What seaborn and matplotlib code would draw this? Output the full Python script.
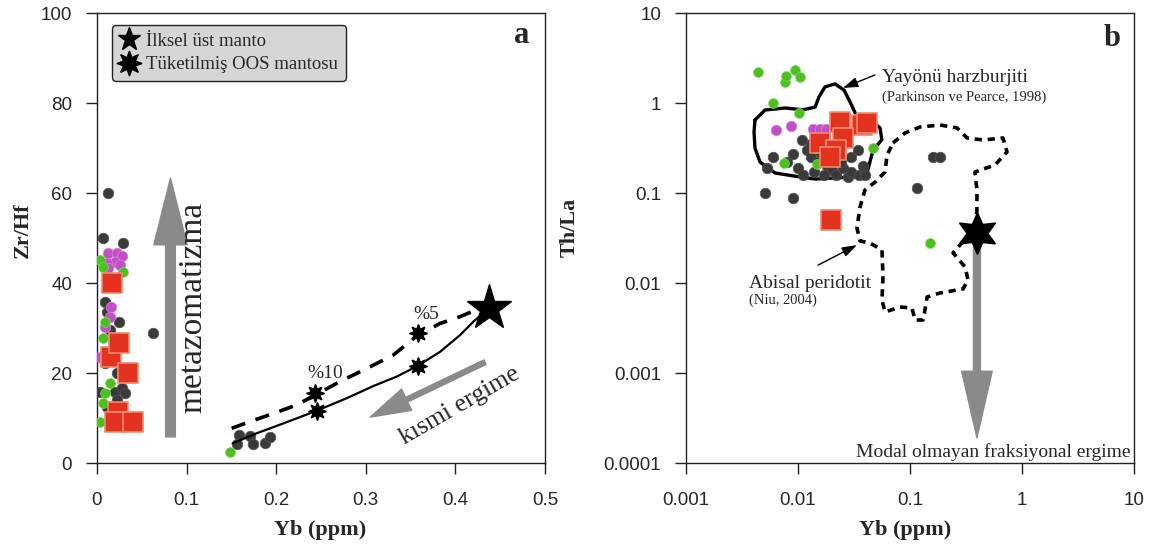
import matplotlib
matplotlib.use("Agg")
import matplotlib.pyplot as plt
import seaborn as sns
import pandas as pd
from matplotlib.lines import Line2D

# ---------------- data: panel a (Yb vs Zr/Hf) ----------------
a_gray_x = [0.012, 0.007, 0.029, 0.063, 0.009, 0.011, 0.024, 0.0145, 0.009, 0.022,
            0.0033, 0.020, 0.0275, 0.031, 0.022, 0.011, 0.0145,
            0.158, 0.171, 0.174, 0.1875, 0.193, 0.156]
a_gray_y = [60, 49.9, 48.8, 28.8, 35.8, 33.6, 31.4, 29.6, 22.2, 19.9,
            15.8, 15.8, 16.6, 15.5, 14.0, 12.5, 9.6,
            6.2, 5.9, 4.2, 4.5, 5.8, 4.2]
a_mag_x = [0.0127, 0.022, 0.0275, 0.020, 0.011, 0.0257, 0.0127, 0.016, 0.0145, 0.009, 0.0033, 0.009]
a_mag_y = [46.6, 46.6, 45.9, 44.7, 44.4, 44.0, 43.3, 34.7, 32.5, 30.3, 23.6, 23.6]
a_grn_x = [0.0033, 0.029, 0.007, 0.009, 0.007, 0.009, 0.0145, 0.009, 0.007, 0.0033, 0.148]
a_grn_y = [45.1, 42.5, 43.6, 31.4, 27.7, 22.9, 17.7, 15.5, 13.3, 9.2, 2.4]
a_red_x = [0.017, 0.016, 0.025, 0.035, 0.023, 0.020, 0.040]
a_red_y = [40.0, 23.5, 26.7, 20.0, 11.3, 9.1, 9.1]

# melting curves
solid_x = [0.1514, 0.1782, 0.208, 0.245, 0.2787, 0.3084, 0.3345, 0.358, 0.3828, 0.4051, 0.420, 0.435]
solid_y = [4.37, 6.6, 8.8, 11.6, 14.4, 17.1, 19.2, 21.6, 24.7, 28.4, 31.4, 34.0]
dash_x = [0.1503, 0.1708, 0.1968, 0.2229, 0.2433, 0.2712, 0.301, 0.3307, 0.358, 0.3828, 0.405, 0.418]
dash_y = [7.7, 9.2, 11.0, 12.9, 15.1, 18.1, 21.0, 24.0, 28.4, 31.0, 32.5, 33.6]
melt_pts_x = [0.245, 0.358, 0.243, 0.358]
melt_pts_y = [11.6, 21.6, 15.5, 28.9]
pum_a = (0.437, 34.5)

# ---------------- data: panel b (Yb vs Th/La) ----------------
b_gray_x = [0.0053, 0.0051, 0.0090, 0.0108, 0.160, 0.186, 0.115, 0.012, 0.013, 0.015,
            0.016, 0.018, 0.020, 0.022, 0.025, 0.028, 0.030, 0.035, 0.038, 0.030,
            0.034, 0.008, 0.010, 0.011, 0.014, 0.017, 0.009, 0.013, 0.024, 0.040, 0.006]
b_gray_y = [0.19, 0.10, 0.088, 0.39, 0.25, 0.25, 0.114, 0.30, 0.25, 0.22,
            0.28, 0.20, 0.18, 0.16, 0.19, 0.15, 0.17, 0.16, 0.20, 0.25,
            0.30, 0.22, 0.19, 0.16, 0.17, 0.16, 0.27, 0.35, 0.22, 0.16, 0.25]
b_mag_x = [0.0064, 0.0087, 0.0136, 0.0157, 0.0178]
b_mag_y = [0.50, 0.56, 0.51, 0.51, 0.51]
b_grn_x = [0.0044, 0.0077, 0.0078, 0.0094, 0.0104, 0.0060, 0.0102, 0.047, 0.0075, 0.0147, 0.150]
b_grn_y = [2.21, 1.71, 2.0, 2.3, 1.93, 1.0, 0.77, 0.32, 0.215, 0.21, 0.028]
b_red_x = [0.0237, 0.037, 0.041, 0.0157, 0.025, 0.022, 0.0193, 0.0197]
b_red_y = [0.61, 0.57, 0.60, 0.36, 0.41, 0.30, 0.25, 0.05]
pum_b = (0.396, 0.036)

arc_x = [0.00413, 0.00507, 0.00766, 0.0111, 0.0142, 0.0154, 0.0174, 0.0214, 0.0258, 0.0291,
         0.033, 0.044, 0.054, 0.056, 0.0468, 0.042, 0.0323, 0.0214, 0.0142, 0.00902,
         0.00623, 0.00458, 0.00413, 0.00405, 0.00413]
arc_y = [0.647, 0.836, 0.88, 0.84, 0.90, 1.17, 1.51, 1.63, 1.39, 1.03,
         0.74, 0.65, 0.53, 0.39, 0.30, 0.18, 0.151, 0.147, 0.143, 0.155,
         0.167, 0.221, 0.316, 0.477, 0.647]
aby_x = [0.0705, 0.0902, 0.123, 0.185, 0.263, 0.323, 0.449, 0.676, 0.735, 0.574,
         0.380, 0.396, 0.396, 0.380, 0.279, 0.242, 0.310, 0.330, 0.297, 0.185,
         0.142, 0.136, 0.131, 0.111, 0.104, 0.0815, 0.0598, 0.0562, 0.0574, 0.0562,
         0.044, 0.0358, 0.0336, 0.0358, 0.0396, 0.0487, 0.0598, 0.0624, 0.0705]
aby_y = [0.36, 0.464, 0.541, 0.57, 0.528, 0.409, 0.388, 0.409, 0.286, 0.205,
         0.171, 0.108, 0.0648, 0.0408, 0.0264, 0.0216, 0.0151, 0.0108, 0.00858, 0.00774,
         0.00699, 0.00501, 0.00388, 0.00388, 0.00528, 0.00541, 0.00476, 0.00647, 0.0117, 0.0233,
         0.0278, 0.0293, 0.0408, 0.0699, 0.108, 0.132, 0.171, 0.264, 0.36]

# ---------------- style ----------------
sns.set_style("ticks")
plt.rcParams["font.family"] = ["Liberation Sans", "DejaVu Sans"]
SERIF = ["Liberation Serif", "DejaVu Serif"]
GRAY_PT = "#3a3a3a"
MAG = "#c24fc6"
GRN = "#4cc021"
RED = "#e3321f"
ARROW = "#8a8a8a"

fig = plt.figure(figsize=(11.5, 5.45), dpi=100)
axa = fig.add_axes([97 / 1150, 82 / 545, 448 / 1150, 450 / 545])
axb = fig.add_axes([686 / 1150, 82 / 545, 448 / 1150, 450 / 545])

for ax in (axa, axb):
    for s in ax.spines.values():
        s.set_linewidth(1.0)
        s.set_color("#222222")
    ax.tick_params(direction="out", length=8, width=1.0, labelsize=13.5, color="#222222")
    ax.tick_params(axis="x", pad=13)
    ax.tick_params(axis="y", pad=10)


def scatter_groups(ax, gx, gy, mx, my, nx, ny, rx, ry):
    sns.scatterplot(x=gx, y=gy, ax=ax, color=GRAY_PT, s=58, edgecolor="#555555",
                    linewidth=0.5, zorder=3, legend=False)
    sns.scatterplot(x=mx, y=my, ax=ax, color=MAG, s=58, edgecolor="#d78ad9",
                    linewidth=0.5, zorder=4, legend=False)
    sns.scatterplot(x=nx, y=ny, ax=ax, color=GRN, s=50, edgecolor="#7dd65a",
                    linewidth=0.5, zorder=4, legend=False)
    sns.scatterplot(x=rx, y=ry, ax=ax, color=RED, marker="s", s=215, edgecolor="#f08a70",
                    linewidth=1.2, zorder=6, legend=False)


def arrow(ax, tail, tip, hl, hw, tw, z=2):
    ax.annotate("", xy=tip, xytext=tail,
                arrowprops=dict(arrowstyle=f"simple,head_length={hl},head_width={hw},tail_width={tw}",
                                color=ARROW, shrinkA=0, shrinkB=0, mutation_scale=1),
                zorder=z)


def curve(ax, x, y, lw, dashes=None, z=5):
    sns.lineplot(x=x, y=y, ax=ax, color="black", lw=lw, sort=False, estimator=None,
                 errorbar=None, zorder=z)
    line = ax.lines[-1]
    if dashes:
        line.set_dashes(dashes)
    return line

# ---------------- panel a ----------------
axa.set_xlim(0, 0.5)
axa.set_ylim(0, 100)
axa.set_xticks([0, 0.1, 0.2, 0.3, 0.4, 0.5])
axa.set_xticklabels(["0", "0.1", "0.2", "0.3", "0.4", "0.5"])
axa.set_yticks([0, 20, 40, 60, 80, 100])

arrow(axa, (0.082, 5.8), (0.082, 63.3), 48, 24, 7)
arrow(axa, (0.433, 22.4), (0.305, 10.2), 29, 17, 3.6)

curve(axa, solid_x, solid_y, 1.6)
curve(axa, dash_x, dash_y, 2.6, dashes=[4, 3])
axa.plot(melt_pts_x, melt_pts_y, ls="none", marker=(8, 1, 0), ms=13, color="black", zorder=6)
axa.plot([pum_a[0]], [pum_a[1]], ls="none", marker="*", ms=34, color="black", zorder=7)

scatter_groups(axa, a_gray_x, a_gray_y, a_mag_x, a_mag_y, a_grn_x, a_grn_y, a_red_x, a_red_y)

axa.text(0.368, 33.0, "%5", family=SERIF, fontsize=14, ha="center", va="center")
axa.text(0.255, 20.0, "%10", family=SERIF, fontsize=14, ha="center", va="center")
axa.text(0.405, 12.8, "kısmi ergime", family=SERIF, fontsize=18.5, ha="center", va="center",
         rotation=30)
axa.text(0.107, 34.5, "metazomatizma", family=SERIF, fontsize=24, ha="center", va="center",
         rotation=90)
axa.text(0.949, 0.951, "a", transform=axa.transAxes, family=SERIF, fontsize=22,
         fontweight="bold", ha="center", va="center")

handles = [Line2D([], [], ls="none", marker="*", ms=17, color="black"),
           Line2D([], [], ls="none", marker=(8, 1, 0), ms=18, color="black")]
leg = axa.legend(handles, ["İlksel üst manto", "Tüketilmiş OOS mantosu"],
                 loc="upper left", bbox_to_anchor=(0.033, 0.973), frameon=True, fancybox=True,
                 facecolor="#d6d6d6", edgecolor="#222222", framealpha=1,
                 prop={"family": SERIF, "size": 13.5}, handlelength=1.0, handletextpad=0.45,
                 borderpad=0.4, labelspacing=0.35, borderaxespad=0)
leg.get_frame().set_linewidth(1.0)

axa.set_xlabel("Yb (ppm)", family=SERIF, fontsize=16, fontweight="bold")
axa.set_ylabel("Zr/Hf", family=SERIF, fontsize=16, fontweight="bold")
axa.xaxis.set_label_coords(0.498, -0.127)
axa.yaxis.set_label_coords(-0.143, 0.518)

# ---------------- panel b ----------------
axb.set_xscale("log")
axb.set_yscale("log")
axb.set_xlim(0.001, 10)
axb.set_ylim(0.0001, 10)
axb.set_xticks([0.001, 0.01, 0.1, 1, 10])
axb.set_xticklabels(["0.001", "0.01", "0.1", "1", "10"])
axb.set_yticks([0.0001, 0.001, 0.01, 0.1, 1, 10])
axb.set_yticklabels(["0.0001", "0.001", "0.01", "0.1", "1", "10"])
axb.minorticks_off()

curve(axb, arc_x, arc_y, 2.4, z=2)
curve(axb, aby_x, aby_y, 2.6, dashes=[2.0, 1.6], z=2)

arrow(axb, pum_b, (0.396, 0.00019), 48, 22, 5, z=3)
axb.plot([pum_b[0]], [pum_b[1]], ls="none", marker=(6, 1, 0), ms=30, color="black", zorder=7)

scatter_groups(axb, b_gray_x, b_gray_y, b_mag_x, b_mag_y, b_grn_x, b_grn_y, b_red_x, b_red_y)

axb.annotate("", xy=(0.0252, 1.47), xytext=(0.0487, 2.05),
             arrowprops=dict(arrowstyle="-|>,head_length=0.9,head_width=0.3", color="black", lw=1.0,
                             shrinkA=0, shrinkB=0))
axb.annotate("", xy=(0.0336, 0.0264), xytext=(0.0151, 0.0158),
             arrowprops=dict(arrowstyle="-|>,head_length=0.9,head_width=0.3", color="black", lw=1.0,
                             shrinkA=0, shrinkB=0))
axb.text(0.0562, 1.9, "Yayönü harzburjiti", family=SERIF, fontsize=14, ha="left", va="center")
axb.text(0.0562, 1.17, "(Parkinson ve Pearce, 1998)", family=SERIF, fontsize=10.5,
         ha="left", va="center")
axb.text(0.00365, 0.0100, "Abisal peridotit", family=SERIF, fontsize=14, ha="left", va="center")
axb.text(0.00365, 0.00647, "(Niu, 2004)", family=SERIF, fontsize=10.5, ha="left", va="center")
axb.text(0.993, 0.025, "Modal olmayan fraksiyonal ergime", transform=axb.transAxes,
         family=SERIF, fontsize=14, ha="right", va="center")
axb.text(0.951, 0.944, "b", transform=axb.transAxes, family=SERIF, fontsize=22,
         fontweight="bold", ha="center", va="center")

axb.set_xlabel("Yb (ppm)", family=SERIF, fontsize=16, fontweight="bold")
axb.set_ylabel("Th/La", family=SERIF, fontsize=16, fontweight="bold")
axb.xaxis.set_label_coords(0.49, -0.127)
axb.yaxis.set_label_coords(-0.237, 0.524)

fig.savefig("out.png", dpi=100, facecolor="white")
